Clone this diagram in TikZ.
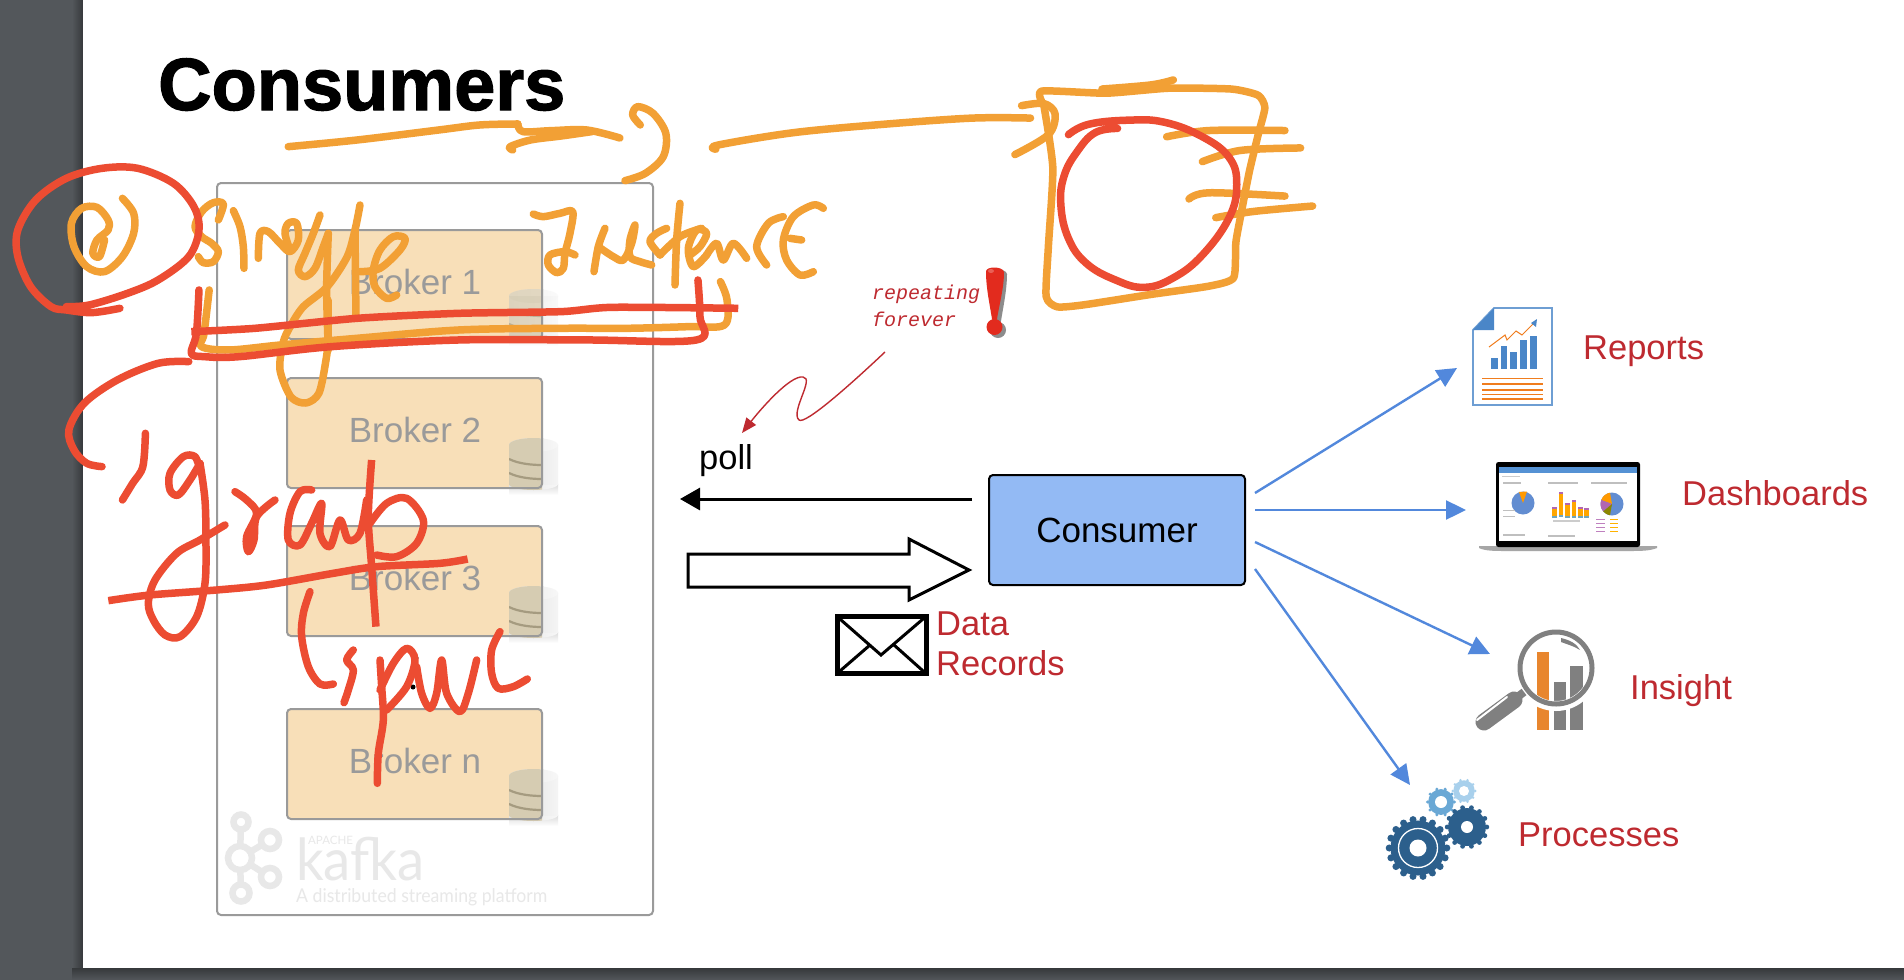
\documentclass[tikz,border=0pt]{standalone}
\usepackage{fontspec}
\setmainfont{Liberation Sans}
\newfontfamily\titlefont[BoldFeatures={FakeBold=1.6}]{Liberation Sans}
\newfontfamily\logofont{Lato}
\newfontfamily\handfont{Liberation Mono}
\usetikzlibrary{arrows.meta,calc}
\definecolor{slidegray}{HTML}{53575B}
\definecolor{inkorange}{HTML}{F2A035}
\definecolor{inkred}{HTML}{EC4C32}
\definecolor{labelred}{HTML}{BE2A30}
\definecolor{brokerfill}{HTML}{F8DFB8}
\definecolor{frameline}{HTML}{9A9A9A}
\definecolor{consumerfill}{HTML}{93BAF4}
\definecolor{arrowblue}{HTML}{5288DC}
\definecolor{logogray}{HTML}{E8E8E8}
\definecolor{docblue}{HTML}{4A86C8}
\definecolor{docorange}{HTML}{F07D1E}
\definecolor{geardark}{HTML}{2C5F8C}
\definecolor{gearmid}{HTML}{6AA8D5}
\definecolor{gearlight}{HTML}{A8D0EC}
\definecolor{barorange}{HTML}{E8862E}
\definecolor{lensgray}{HTML}{808080}
\definecolor{bangred}{HTML}{E22B1E}
\definecolor{dbside}{HTML}{D6CCB2}
\definecolor{dbmid}{HTML}{F3EDDC}
\definecolor{dbband}{HTML}{A59B80}
\tikzset{
  orangeink/.style={draw=inkorange,line width=7.5pt,line cap=round,line join=round},
  redink/.style={draw=inkred,line width=7.5pt,line cap=round,line join=round},
  zonea/.style={xscale=0.5102,yscale=0.3333},
  zonec/.style={shift={(660,60)},xscale=0.4464,yscale=0.4149},
  zoned/.style={shift={(190,190)},scale=0.3333},
  zonee/.style={shift={(520,190)},scale=0.3333},
  zonef/.style={shift={(100,450)},scale=0.3333},
  zoneg/.style={shift={(290,580)},scale=0.3333},
  brokerbox/.style={draw=frameline,line width=2pt,fill=brokerfill,rounded corners=4pt,minimum width=255pt,inner sep=0pt},
  brokertext/.style={anchor=base,inner sep=0pt,text=frameline,font=\fontsize{35}{40}\selectfont},
  redlabel/.style={text=labelred,anchor=base west,inner sep=0pt,font=\fontsize{34.5}{40}\selectfont},
  bluearrow/.style={draw=arrowblue,line width=2.4pt,-{Triangle[length=20pt,width=19pt,fill=arrowblue]}},
  logotext/.style={text=logogray,anchor=base west,inner sep=0pt},
}
\newcommand\ink[2]{\draw[#1] plot[smooth,tension=.55] coordinates {#2};}
\newcommand\dbicon[3]{%
  \begin{scope}[shift={(#1,#2)}]
    \begin{scope}[opacity=#3]
      \shade[top color=black!14,bottom color=white] (0,46) rectangle (49,57);
      \shade[left color=black!12,right color=black!3] (24.5,46) ellipse [x radius=24.5,y radius=6];
      \shade[left color=black!14,right color=black!4] (0,7) rectangle (49,46);
      \shade[left color=black!10,right color=black!3] (24.5,7) ellipse [x radius=24.5,y radius=7];
      \begin{scope}
        \clip (0,-5) rectangle (33,70);
        \shade[left color=dbside,middle color=dbmid,right color=dbside] (24.5,46) ellipse [x radius=24.5,y radius=6];
        \shade[left color=dbside,middle color=dbmid,right color=dbside] (0,7) rectangle (33,46);
        \draw[line width=2.2pt,dbband] (0,21) .. controls (10,26) and (24,27) .. (33,27);
        \draw[line width=2.2pt,dbband] (0,35) .. controls (10,40) and (24,41) .. (33,41);
        \shade[left color=dbside,middle color=dbmid,right color=dbside] (24.5,7) ellipse [x radius=24.5,y radius=7];
      \end{scope}
    \end{scope}
    \draw[frameline,line width=2pt,rounded corners=4pt] (0,50) -- (33,50) -- (33,0);
  \end{scope}}
\newcommand\gearshape[6]{% cx cy r teeth color hole
  \fill[#5] (#1,#2) circle [radius=#3*0.86];
  \foreach \a in {1,...,#4}{
    \fill[#5] ($(#1,#2)+({360*\a/#4}:#3*0.9)$) circle [radius=#3*0.11];
  }
  \fill[white] (#1,#2) circle [radius=#6];}
\begin{document}
\begin{tikzpicture}[x=1pt,y=-1pt]
\useasboundingbox (0,0) rectangle (1904,980);
\fill[slidegray] (0,0) rectangle (1904,980);
\shade[left color=slidegray,right color=black!35!slidegray] (72,0) rectangle (83,980);
\shade[top color=black!35!slidegray,bottom color=slidegray] (72,968) rectangle (1904,980);
\fill[white] (83,0) rectangle (1904,968);

% title
\node[anchor=base west,inner sep=0pt,font=\titlefont\bfseries\fontsize{74}{80}\selectfont] (title) at (158,110) {Consumers};

% Kafka cluster frame
\node[draw=frameline,line width=2pt,rounded corners=4pt,fill=white,minimum width=436pt,minimum height=732pt,inner sep=0pt] (cluster) at (435,549) {};

% Kafka logo
\begin{scope}[draw=logogray,line width=6.5pt]
  \coordinate (lga) at (241,822);
  \coordinate (lgb) at (270,840);
  \coordinate (lgc) at (240,858);
  \coordinate (lgd) at (270,877);
  \coordinate (lge) at (241,893);
  \draw (lga)--(lgc)--(lge) (lgb)--(lgc)--(lgd);
  \filldraw[fill=white] (lga) circle [radius=7.5];
  \filldraw[fill=white] (lgb) circle [radius=9];
  \filldraw[fill=white] (lgc) circle [radius=12];
  \filldraw[fill=white] (lgd) circle [radius=9];
  \filldraw[fill=white] (lge) circle [radius=8.5];
\end{scope}
\node[logotext,font=\logofont\fontsize{58}{60}\selectfont] (kafkaword) at (296,880) {\scalebox{.94}[1]{kafka}};
\node[logotext,font=\logofont\fontsize{11.5}{12}\selectfont] (apache) at (308,844) {APACHE};
\node[logotext,font=\logofont\fontsize{19}{20}\selectfont] (tagline) at (296,902) {\scalebox{.93}[1]{A distributed streaming platform}};

% brokers
\node[brokerbox,minimum height=109pt] (b1) at (414.5,284.5) {};
\node[brokerbox,minimum height=110pt] (b2) at (414.5,433) {};
\node[brokerbox,minimum height=110pt] (b3) at (414.5,581) {};
\node[brokerbox,minimum height=110pt] (bn) at (414.5,764) {};
\node[brokertext] (lb1) at (415,294) {Broker 1};
\node[brokertext] (lb2) at (415,442) {Broker 2};
\node[brokertext] (lb3) at (415,590) {Broker 3};
\node[brokertext] (lbn) at (415,773) {Broker n};
\dbicon{509}{289}{0.6}
\dbicon{509}{438}{1}
\dbicon{509}{586}{1}
\dbicon{509}{769}{1}
\foreach \xx/\yy in {416/658,413/673,413/687} {\fill[black] (\xx,\yy) circle [radius=2.5];}

% consumer and poll
\node[draw=black,line width=2pt,fill=consumerfill,rounded corners=4pt,minimum width=256pt,minimum height=110pt,inner sep=0pt,font=\fontsize{35}{40}\selectfont] (consumer) at (1117,530) {Consumer};
\coordinate (pollstart) at (972,499);
\coordinate (pollend) at (680,499);
\draw[line width=3pt,-{Triangle[length=20pt,width=22pt]}] (pollstart) -- (pollend);
\node[anchor=base west,inner sep=0pt,font=\fontsize{34.5}{40}\selectfont] (polllabel) at (699,469) {poll};

% block arrow
\coordinate (recstail) at (688,570);
\coordinate (recstip) at (969,570);
\draw[line width=3pt,fill=white,line join=miter] ($(recstail)+(0,-16)$) -- (909,554) -- (909,539) -- (recstip) -- (909,600) -- (909,587) -- ($(recstail)+(0,17)$) -- cycle;

% envelope
\node[draw=black,line width=5pt,fill=white,minimum width=89pt,minimum height=57pt,inner sep=0pt] (envelope) at (881.5,645) {};
\draw[line width=3pt] ($(envelope.north west)+(2,2)$) -- (881,655) -- ($(envelope.north east)+(-2,2)$);
\draw[line width=3pt] ($(envelope.south west)+(2,-2)$) -- (870,645) ($(envelope.south east)+(-2,-2)$) -- (894,645);
\node[redlabel] (datalabel) at (936,635) {Data};
\node[redlabel] (recordslabel) at (936,675) {Records};

% repeating forever
\node[anchor=base west,inner sep=0pt,text=labelred,font=\handfont\itshape\fontsize{20}{22}\selectfont] (rep) at (872,299) {repeating};
\node[anchor=base west,inner sep=0pt,text=labelred,font=\handfont\itshape\fontsize{20}{22}\selectfont] (fore) at (872,326) {forever};
\fill[black!45] (990,274) .. controls (989,268) and (1006,268) .. (1007,274) .. controls (1007,290) and (1003,308) .. (1001,321) .. controls (1000,325) and (997,325) .. (996,321) .. controls (994,308) and (990,290) .. (990,274) -- cycle;
\fill[black!45] (998,330) circle [radius=8];
\fill[bangred] (986,272) .. controls (985,266) and (1003,266) .. (1004,272) .. controls (1004,288) and (999,306) .. (997,319) .. controls (996,322) and (993,322) .. (992,319) .. controls (990,306) and (986,288) .. (986,272) -- cycle;
\fill[bangred] (994.5,327) circle [radius=8];
\fill[white,opacity=.25] (991,271) ellipse [x radius=3,y radius=2];
% squiggle
\coordinate (sqstart) at (885,352);
\coordinate (sqtip) at (742,433);
\draw[draw=labelred,line width=1.4pt,-{Triangle[length=15pt,width=12pt,fill=labelred]}] (sqstart) .. controls (850,385) and (805,425) .. (799,420) .. controls (790,412) and (815,378) .. (803,377) .. controls (790,375) and (760,410) .. (sqtip);

% output arrows
\coordinate (outa) at (1255,493);
\coordinate (outb) at (1255,510);
\coordinate (outc) at (1255,542);
\coordinate (outd) at (1255,569);
\coordinate (reportin) at (1457,368);
\coordinate (dashin) at (1466,510);
\coordinate (insightin) at (1490,654);
\coordinate (procin) at (1410,785);
\draw[bluearrow] (outa) -- (reportin);
\draw[bluearrow] (outb) -- (dashin);
\draw[bluearrow] (outc) -- (insightin);
\draw[bluearrow] (outd) -- (procin);

% report icon
\draw[draw=docblue!80!white,line width=1.8pt,fill=white] (1473,330) -- (1494,308) -- (1552,308) -- (1552,405) -- (1473,405) -- cycle;
\fill[docblue] (1473,330) -- (1494,308) -- (1494,330) -- cycle;
\foreach \bx/\by in {1491/358,1500.5/346,1510/352,1520/340,1530/336}
  {\fill[docblue] (\bx,\by) rectangle (\bx+6.5,369);}
\draw[docorange,line width=1pt] (1489,347) -- (1505,335) -- (1507,340) -- (1516,331) -- (1522,335) -- (1533,324);
\fill[docblue] (1537,319) -- (1531,323) -- (1536,327) -- cycle;
\foreach \ly in {378.5,384,390,394.5,399}
  {\draw[docorange,line width=1.2pt] (1482,\ly) -- (1543,\ly);}
\node[redlabel] (reports) at (1583,359) {Reports};

% laptop icon
\fill[black!35] (1479,546) -- (1657,546) -- (1657,548) .. controls (1650,551) and (1640,551) .. (1630,551) -- (1505,551) .. controls (1495,551) and (1485,551) .. (1479,548) -- cycle;
\fill[black,rounded corners=2.5pt] (1496,462) rectangle (1640,547);
\fill[white] (1499,467) rectangle (1637,541);
\fill[cyan!55!blue!70!white] (1499,467) rectangle (1637,473);
\fill[black!20] (1502,476) rectangle (1520,477);
\foreach \sx/\sw in {1503/18,1548/30,1591/36}
  {\fill[black!25] (\sx,482) rectangle (\sx+\sw,484);}
\fill[black!25] (1503,534) rectangle (1525,536);
\fill[black!25] (1548,535) rectangle (1575,537);
\fill[cyan!45!blue!65!white] (1523,503) circle [radius=11.5];
\fill[orange!80!yellow] (1523,503) -- (1519,492) -- (1527,491.5) -- cycle;
\foreach \bx/\bt/\bb in {1552/507/518,1558.5/492/517,1565/503/518,1571.5/500/518,1578/507/518,1584/508/518}{
  \fill[orange!70!yellow] (\bx,\bt+2) rectangle (\bx+4.5,\bb-2);
  \fill[violet!60!white] (\bx,\bt) rectangle (\bx+4.5,\bt+2);
  \fill[cyan!60!black!70!white] (\bx,\bb-2) rectangle (\bx+4.5,\bb);
}
\fill[black!20] (1553,520) rectangle (1580,522);
\fill[cyan!45!blue!65!white] (1612,504) circle [radius=11.5];
\fill[orange!80!yellow] (1612,504) -- ++(200:11.5) arc [start angle=200,end angle=260,radius=11.5] -- cycle;
\fill[violet!60!white] (1612,504) -- ++(140:11.5) arc [start angle=140,end angle=200,radius=11.5] -- cycle;
\fill[olive] (1612,504) -- ++(100:11.5) arc [start angle=100,end angle=140,radius=11.5] -- cycle;
\foreach \ly in {519,523,527,531}{\fill[violet!50!white] (1596,\ly) rectangle (1605,\ly+1.4);\fill[orange!60!yellow] (1610,\ly) rectangle (1618,\ly+1.4);}
\foreach \ly in {510,516}{\fill[black!25] (1503,\ly) rectangle (1515,\ly+1);}
\node[redlabel] (dashboards) at (1682,505) {Dashboards};

% insight icon
\fill[barorange] (1537,652) rectangle (1549,730);
\fill[lensgray] (1554,682) rectangle (1566,730);
\fill[lensgray] (1570,666) rectangle (1583,730);
\draw[white,line width=10pt] (1556,668) circle [radius=38];
\draw[lensgray,line width=5pt] (1556,668) circle [radius=36];
\fill[lensgray] (1561,638) .. controls (1570,640) and (1577,644) .. (1580,650) .. controls (1574,646) and (1566,644) .. (1561,642) -- cycle;
\draw[lensgray,line width=17pt,line cap=round] (1484,722) -- (1514,700);
\draw[lensgray,line width=8pt] (1516,698) -- (1524,692);
\draw[white,line width=2pt,line cap=round] (1477,720) -- (1507,697);
\node[redlabel] (insight) at (1630,699) {Insight};

% gears
\gearshape{1441}{802}{15}{10}{gearmid}{6}
\gearshape{1464}{791}{12.5}{10}{gearlight}{5}
\gearshape{1467}{827}{22}{14}{geardark}{6}
\gearshape{1418}{848}{32}{18}{geardark}{8.5}
\draw[white,line width=1.3pt] (1418,848) circle [radius=19.5];
\node[redlabel] (processes) at (1518,846) {Processes};

% orange ink
\begin{scope}[zonea]
  \ink{orangeink}{(565,440)(700,420)(860,390)(940,375)(1015,372)}
  \ink{orangeink}{(1015,372)(1025,395)(1080,392)(1150,390)(1215,414)}
  \ink{orangeink}{(1005,450)(1000,440)(1040,420)(1100,408)(1160,395)}
  \ink{orangeink}{(1255,375)(1240,345)(1250,320)(1280,340)(1305,400)(1300,470)(1265,520)(1225,542)}
  \ink{orangeink}{(240,595)(262,640)(262,700)(240,770)(205,815)(170,800)(145,740)(140,670)(160,625)(190,622)(212,660)(212,690)(190,720)(182,760)(195,770)(205,720)}
  \ink{orangeink}{(410,870)(400,1000)(395,1040)(450,1050)(550,1035)(700,1015)(900,990)(1100,985)(1230,985)(1350,980)(1420,975)(1425,900)(1412,845)}
\end{scope}
\begin{scope}[zoned]
  \ink{orangeink}{(85,90)(100,42)(70,38)(35,65)(15,110)(35,140)(65,160)(85,185)(70,215)(40,218)(25,200)}
  \ink{orangeink}{(130,62)(150,110)(160,170)(162,235)}
  \ink{orangeink}{(205,205)(210,130)(235,125)(270,160)(300,185)(325,150)(320,100)(295,100)(285,130)(300,180)}
  \ink{orangeink}{(390,75)(370,130)(345,190)(325,240)(345,260)(375,235)(400,170)(415,130)}
  \ink{orangeink}{(415,130)(410,300)(415,480)}
  \ink{orangeink}{(495,120)(498,380)}
  \ink{orangeink}{(510,245)(570,235)(630,180)(645,145)(610,140)(570,180)(550,240)(555,290)(590,325)(620,315)}
\end{scope}
\draw[orangeink] plot[smooth,tension=.5] coordinates {(360,205)(355,230)(347,257)(327,287)(303,307)(290,327)(283,343)(280,370)(291,397)(306,403)(319,393)(326,360)(328,340)(328,300)};
\begin{scope}[zonee]
  \ink{orangeink}{(40,72)(70,80)(120,70)(158,65)(150,130)(135,190)(130,235)(110,248)(85,225)(90,195)(135,185)(165,195)}
  \ink{orangeink}{(222,245)(235,170)(255,115)}
  \ink{orangeink}{(235,170)(280,200)(310,210)(335,160)(345,105)(330,150)(330,200)(360,215)(395,225)}
  \ink{orangeink}{(440,115)(410,130)(390,155)(420,195)}
  \ink{orangeink}{(480,40)(470,150)(465,285)}
  \ink{orangeink}{(420,195)(480,140)(545,115)}
  \ink{orangeink}{(510,195)(540,170)(560,130)(530,120)(505,175)(520,230)(560,195)}
  \ink{orangeink}{(560,195)(590,160)(610,210)(640,160)(680,205)}
  \ink{orangeink}{(790,80)(745,100)(710,170)(740,225)}
  \ink{orangeink}{(910,55)(880,45)(820,80)(790,150)(800,210)(840,255)(880,245)}
  \ink{orangeink}{(810,145)(845,150)}
\end{scope}
\begin{scope}[zonec]
  \ink{orangeink}{(125,215)(130,205)(300,175)(500,155)(700,140)(830,140)}
  \ink{orangeink}{(810,110)(860,105)(885,130)(870,180)(795,228)}
  \draw[orangeink] plot[smooth,tension=.35] coordinates {(860,110)(855,75)(1000,80)(1140,68)(1280,70)(1340,85)(1355,115)(1340,180)(1320,270)(1300,380)(1290,440)(1285,525)(1230,545)(1100,565)(950,590)(890,595)(865,570)(870,450)(880,260)(860,110)};
  \ink{orangeink}{(990,70)(1100,60)(1150,48)}
  \ink{orangeink}{(1135,185)(1230,170)(1400,170)}
  \ink{orangeink}{(1215,245)(1300,218)(1435,212)}
  \ink{orangeink}{(1185,335)(1230,320)(1400,328)}
  \ink{orangeink}{(1245,380)(1330,365)(1462,352)}
  % red circle
  \draw[redink] plot[smooth,tension=.7] coordinates {(915,180)(960,155)(1050,145)(1130,150)(1215,185)(1275,235)(1292,300)(1275,380)(1215,470)(1150,525)(1085,548)(1020,530)(955,490)(915,430)(898,350)(905,280)(935,220)(975,175)(1025,165)};
\end{scope}
% red ink
\begin{scope}[zonea]
  \draw[redink,line cap=butt] plot[smooth,tension=.4] coordinates {(375,995)(500,985)(700,955)(900,940)(1100,935)(1200,922)(1447,925)};
  \ink{redink}{(390,870)(385,1000)(375,1060)(400,1070)(470,1070)(650,1040)(900,1020)(1150,1020)(1365,1020)(1372,950)(1368,840)}
  \ink{redink}{(235,925)(180,938)(130,930)(100,920)(60,860)(35,770)(35,690)(70,600)(130,535)(200,505)(270,505)(340,550)(380,620)(390,690)(370,770)(310,840)(250,880)(175,915)(130,920)}
  \ink{redink}{(370,1085)(310,1090)(230,1140)(165,1210)(135,1290)(145,1350)(170,1390)(200,1400)}
  \ink{redink}{(285,1300)(280,1400)(260,1450)(240,1500)}
\end{scope}
\begin{scope}[zonef]
  \ink{redink}{(300,60)(285,20)(250,20)(210,70)(210,120)(235,135)(270,90)(300,40)}
  \ink{redink}{(300,40)(315,150)(318,280)(315,400)(290,500)(240,560)(195,555)(160,510)(145,460)(165,390)(230,310)(300,270)(375,225)}
  \ink{redink}{(405,125)(440,150)(470,190)(440,260)(445,305)(462,270)(470,200)(525,150)}
  \ink{redink}{(635,120)(600,125)(570,190)(565,270)(600,285)(635,220)(665,160)(660,250)(690,290)(720,210)(745,270)(780,250)(800,150)}
  \draw[redink,line cap=butt] plot[smooth,tension=.5] coordinates {(815,30)(805,200)(815,350)(828,530)};
  \ink{redink}{(810,220)(860,160)(920,145)(970,210)(950,280)(890,320)(830,315)}
  \draw[redink,line cap=butt] plot[smooth,tension=.5] coordinates {(25,452)(150,435)(350,420)(500,405)(700,370)(830,350)(1020,340)(1103,327)};
\end{scope}
\begin{scope}[zoneg]
  \ink{redink}{(60,35)(40,100)(35,170)(55,260)(90,312)(130,312)}
  \ink{redink}{(190,210)(170,240)(190,270)(175,330)(162,368)}
  \ink{redink}{(270,240)(275,320)(280,420)(265,520)(262,610)}
  \ink{redink}{(270,330)(310,250)(350,205)(375,240)(350,320)(290,390)}
  \ink{redink}{(380,260)(395,340)(420,385)(440,340)(455,240)(470,340)(510,395)(535,340)(560,240)}
  \ink{redink}{(630,155)(605,210)(605,280)(625,325)(670,320)(712,297)}
\end{scope}
\end{tikzpicture}
\end{document}
